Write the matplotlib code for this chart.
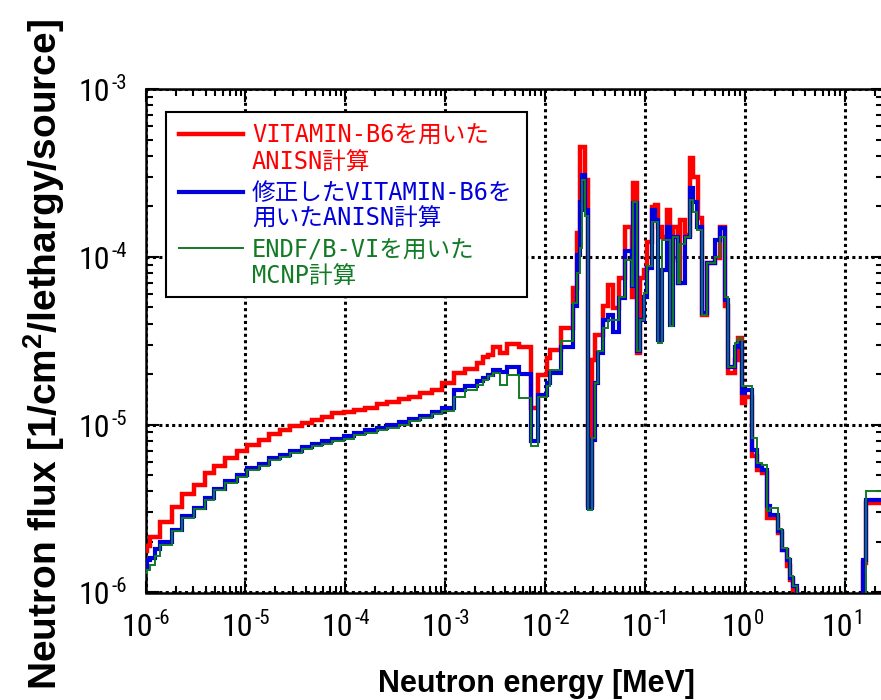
import numpy as np
import matplotlib
matplotlib.use('Agg')
import matplotlib.pyplot as plt
from matplotlib import font_manager as fm
from matplotlib.ticker import LogLocator, NullFormatter
from matplotlib.lines import Line2D
from matplotlib.patches import Rectangle
from matplotlib.transforms import offset_copy

names = {f.name for f in fm.fontManager.ttflist}
NARROW = 'Liberation Sans'
for cand in ['Liberation Sans Narrow', 'DejaVu Sans Condensed', 'Roboto Condensed', 'Open Sans Condensed']:
    if cand in names:
        NARROW = cand
        break
plt.rcParams['font.family'] = ['Liberation Sans']
plt.rcParams['mathtext.fontset'] = 'custom'
plt.rcParams['mathtext.rm'] = 'Liberation Sans'
plt.rcParams['mathtext.bf'] = 'Liberation Sans:bold'

# ---- data (group edges in MeV, flux per lethargy) ----
energy_edges = [
    8.91e-7, 1.047e-6, 1.122e-6, 1.259e-6, 1.413e-6, 1.849e-6, 2.328e-6, 3.04e-6, 3.98e-6, 4.82e-6,
    6.31e-6, 8.26e-6, 1.040e-5, 1.358e-5, 1.710e-5, 2.239e-5, 2.818e-5, 3.69e-5, 4.65e-5, 5.85e-5,
    7.36e-5, 9.62e-5, 1.211e-4, 1.585e-4, 2.075e-4, 2.612e-4, 3.41e-4, 4.30e-4, 5.62e-4, 7.36e-4,
    9.27e-4, 1.211e-3,
    1.585e-3, 2.075e-3, 2.415e-3, 2.71e-3, 3.04e-3, 3.55e-3, 4.14e-3, 5.50e-3, 7.24e-3, 8.57e-3,
    1.040e-2, 1.122e-2, 1.445e-2, 1.905e-2, 2.089e-2, 2.239e-2, 2.344e-2, 2.512e-2, 2.71e-2, 2.93e-2,
    3.162e-2, 3.41e-2, 3.83e-2, 4.30e-2, 4.82e-2, 5.50e-2, 6.31e-2, 7.36e-2, 7.64e-2, 8.26e-2,
    8.91e-2, 9.77e-2, 0.1040, 0.1167, 0.1259, 0.1358, 0.1469, 0.1648, 0.1778, 0.1919,
    0.2153, 0.2239, 0.2512, 0.2818, 0.304, 0.329, 0.341, 0.369, 0.414, 0.501,
    0.562, 0.631, 0.681, 0.794, 0.857, 0.927, 1.000, 1.167, 1.309, 1.479,
    1.660, 1.778, 2.153, 2.328, 2.612, 2.818, 3.041, 3.311, 15.14, 16.22, 28.2]

flux_vitamin_b6 = [
    1.76e-6, 1.90e-6, 2.13e-6, 2.13e-6, 2.62e-6, 3.22e-6, 3.85e-6, 4.38e-6, 5.16e-6, 5.65e-6,
    6.37e-6, 6.94e-6, 7.53e-6, 8.14e-6, 8.81e-6, 9.34e-6, 9.77e-6, 1.018e-5, 1.07e-5, 1.11e-5,
    1.17e-5, 1.19e-5, 1.23e-5, 1.26e-5, 1.32e-5, 1.36e-5, 1.43e-5, 1.47e-5, 1.54e-5, 1.62e-5,
    1.77e-5,
    2.03e-5, 2.15e-5, 2.33e-5, 2.52e-5, 2.60e-5, 2.92e-5, 2.67e-5, 3.03e-5, 2.92e-5, 1.26e-5,
    1.99e-5, 2.49e-5, 2.79e-5, 3.76e-5, 6.51e-5, 1.38e-4, 4.54e-4, 4.54e-4, 2.87e-4, 3.3e-6,
    2.44e-5, 3.43e-5, 3.43e-5, 5.06e-5, 6.81e-5, 4.95e-5, 7.47e-5, 1.51e-4, 5.80e-5, 2.75e-4,
    2.67e-5, 7.47e-5, 8.37e-5, 1.23e-4, 1.99e-4, 2.04e-4, 1.51e-4, 1.32e-4, 1.90e-4, 9.60e-5,
    1.51e-4, 6.97e-5, 1.66e-4, 1.35e-4, 3.87e-4, 3.0e-4, 3.01e-4, 1.7e-4, 4.52e-5, 9.17e-5,
    9.83e-5, 1.51e-4, 5.06e-5, 2.03e-5, 2.44e-5, 3.28e-5, 1.35e-5, 1.47e-5, 6.48e-6, 5.40e-6,
    5.16e-6, 2.79e-6, 2.79e-6, 2.26e-6, 1.80e-6, 1.43e-6, 1.19e-6, 1.04e-6, 3e-7, 1.5e-6, 3.43e-6]

flux_modified_b6 = [
    1.40e-6, 1.57e-6, 1.61e-6, 1.82e-6, 1.99e-6, 2.37e-6, 2.85e-6, 3.19e-6, 3.66e-6, 4.14e-6,
    4.59e-6, 5.02e-6, 5.52e-6, 5.86e-6, 6.34e-6, 6.63e-6, 7.00e-6, 7.37e-6, 7.71e-6, 7.96e-6,
    8.26e-6, 8.51e-6, 8.93e-6, 9.25e-6, 9.56e-6, 9.90e-6, 1.032e-5, 1.081e-5, 1.132e-5, 1.19e-5,
    1.26e-5,
    1.62e-5, 1.69e-5, 1.81e-5, 1.90e-5, 1.99e-5, 2.12e-5, 2.05e-5, 2.21e-5, 2.00e-5, 7.96e-6,
    1.51e-5, 1.77e-5, 2.03e-5, 2.92e-5, 5.06e-5, 1.03e-4, 2.13e-4, 3.08e-4, 1.90e-4, 3.19e-6,
    8.14e-6, 1.77e-5, 2.67e-5, 4.22e-5, 4.52e-5, 3.59e-5, 5.68e-5, 1.08e-4, 6.66e-5, 2.09e-4,
    2.73e-5, 4.22e-5, 5.80e-5, 8.57e-5, 1.90e-4, 1.66e-4, 3.21e-5, 8.37e-5, 1.51e-4, 3.94e-5,
    1.32e-4, 6.97e-5, 6.97e-5, 1.32e-4, 2.56e-4, 2.13e-4, 1.51e-4, 1.51e-4, 4.62e-5, 9.17e-5,
    1.26e-4, 1.48e-4, 5.55e-5, 2.22e-5, 2.92e-5, 3.06e-5, 1.55e-5, 1.62e-5, 7.10e-6, 5.65e-6,
    5.40e-6, 3.27e-6, 2.91e-6, 2.32e-6, 1.80e-6, 1.57e-6, 1.22e-6, 1.09e-6, 3e-7, 1.57e-6, 3.54e-6]

flux_mcnp = [
    1.31e-6, 1.37e-6, 1.45e-6, 1.66e-6, 1.93e-6, 2.32e-6, 2.79e-6, 3.15e-6, 3.58e-6, 4.06e-6,
    4.50e-6, 4.87e-6, 5.35e-6, 5.68e-6, 6.15e-6, 6.43e-6, 6.79e-6, 7.15e-6, 7.48e-6, 7.72e-6,
    8.01e-6, 8.25e-6, 8.66e-6, 8.97e-6, 9.27e-6, 9.60e-6, 1.00e-5, 1.05e-5, 1.10e-5, 1.15e-5,
    1.20e-5,
    1.47e-5, 1.62e-5, 1.73e-5, 1.85e-5, 1.94e-5, 2.03e-5, 1.73e-5, 1.99e-5, 1.44e-5, 7.43e-6,
    1.47e-5, 1.69e-5, 2.12e-5, 3.13e-5, 5.30e-5, 8.0e-5, 1.13e-4, 2.87e-4, 1.74e-4, 3.1e-6,
    8.34e-6, 1.77e-5, 2.73e-5, 3.76e-5, 4.22e-5, 4.22e-5, 5.80e-5, 9.60e-5, 6.66e-5, 2.13e-4,
    2.73e-5, 4.18e-5, 6.1e-5, 8.77e-5, 1.62e-4, 1.62e-4, 3.06e-5, 1.26e-4, 1.26e-4, 3.85e-5,
    1.32e-4, 6.97e-5, 1.2e-4, 1.32e-4, 2.18e-4, 1.86e-4, 1.45e-4, 1.45e-4, 4.52e-5, 9.17e-5,
    1.0e-4, 1.32e-4, 5.80e-5, 2.22e-5, 3.06e-5, 3.28e-5, 1.69e-5, 1.69e-5, 8.34e-6, 5.92e-6,
    5.78e-6, 3.05e-6, 3.19e-6, 2.4e-6, 1.85e-6, 1.6e-6, 1.25e-6, 1.1e-6, 3e-7, 3e-7, 4.01e-6]

x_tick_exponents = [-6, -5, -4, -3, -2, -1, 0, 1]
y_tick_exponents = [-6, -5, -4, -3]

legend_labels = [
    ['VITAMIN-B6を用いた', 'ANISN計算'],
    ['修正したVITAMIN-B6を', '用いたANISN計算'],
    ['ENDF/B-VIを用いた', 'MCNP計算'],
]
x_label = 'Neutron energy [MeV]'
y_label = r'Neutron flux [1/cm$^{\mathbf{2}}$/lethargy/source]'

RED, BLUE, GREEN = '#FF0000', '#0000DD', '#137A26'

W, H = 881, 700
PT = 0.72  # points per pixel at dpi 100
fig = plt.figure(figsize=(W / 100, H / 100), dpi=100)
ax = fig.add_axes([145.5 / W, 107.5 / H, 737.5 / W, 503.5 / H])
ax.set_xscale('log')
ax.set_yscale('log')

ax.stairs(flux_vitamin_b6, energy_edges, baseline=None, color=RED, lw=3.2, zorder=3)
ax.stairs(flux_modified_b6, energy_edges, baseline=None, color=BLUE, lw=3.0, zorder=4)
ax.stairs(flux_mcnp, energy_edges, baseline=None, color=GREEN, lw=1.4, zorder=5)

ax.set_xlim(1e-6, 10 ** 1.3825)
ax.set_ylim(1e-6, 1e-3)

ax.grid(True, which='major', color='black', linestyle=(0, (1, 1.1)), linewidth=2.2)
ax.set_axisbelow(True)

for axis in (ax.xaxis, ax.yaxis):
    axis.set_major_locator(LogLocator(base=10, numticks=20))
    axis.set_minor_locator(LogLocator(base=10, subs=np.arange(2, 10), numticks=20))
    axis.set_minor_formatter(NullFormatter())
    axis.set_major_formatter(NullFormatter())

ax.tick_params(which='both', direction='in', top=True, right=True, width=1.5, color='black')
ax.tick_params(which='major', length=9)
ax.tick_params(which='minor', length=5)
for s in ax.spines.values():
    s.set_linewidth(1.8)

# tick labels "10" + raised exponent (hyphen as in the reference)
MAIN_FS, SUP_FS = 23, 15
xt = ax.get_xaxis_transform()
for e in x_tick_exponents:
    x = 10.0 ** e
    ax.text(x, 0, '10', transform=offset_copy(xt, fig, x=8 * PT, y=-44 * PT, units='points'),
            ha='right', va='baseline', fontsize=MAIN_FS, family=NARROW, clip_on=False)
    ax.text(x, 0, '%d' % e if e >= 0 else '-%d' % (-e),
            transform=offset_copy(xt, fig, x=9 * PT, y=-32 * PT, units='points'),
            ha='left', va='baseline', fontsize=SUP_FS, family=NARROW, clip_on=False)
yt = ax.get_yaxis_transform()
for e in y_tick_exponents:
    y = 10.0 ** e
    ax.text(0, y, '10', transform=offset_copy(yt, fig, x=-35 * PT, y=-12 * PT, units='points'),
            ha='right', va='baseline', fontsize=MAIN_FS, family=NARROW, clip_on=False)
    ax.text(0, y, '-%d' % (-e), transform=offset_copy(yt, fig, x=-34 * PT, y=0 * PT, units='points'),
            ha='left', va='baseline', fontsize=SUP_FS, family=NARROW, clip_on=False)

def fx(x):
    return x / W

def fy(y):
    return 1 - y / H

fig.text(fx(536), fy(692), x_label, ha='center', va='baseline', fontsize=22,
         fontweight='bold', family='Liberation Sans')
fig.text(fx(57), fy(355), y_label, ha='center', va='baseline', rotation=90,
         rotation_mode='anchor', fontsize=28, fontweight='bold', family='Liberation Sans')

# legend box
fig.add_artist(Rectangle((fx(166), fy(297)), (527 - 166) / W, (297 - 112) / H,
                         transform=fig.transFigure, facecolor='white', edgecolor='black',
                         lw=1.5, zorder=10))
leg_colors = [RED, BLUE, GREEN]
leg_lw = [3.2, 3.0, 1.4]
line_y = [134, 192, 248]
base1 = [143, 200, 258]
base2 = [170, 226, 284]
for i in range(3):
    fig.add_artist(Line2D([fx(179), fx(243)], [fy(line_y[i])] * 2, transform=fig.transFigure,
                          color=leg_colors[i], lw=leg_lw[i], zorder=11))
    fig.text(fx(252), fy(base1[i]), legend_labels[i][0], color=leg_colors[i], fontsize=17,
             family=['DejaVu Sans Mono', 'Noto Sans CJK JP'], va='baseline', zorder=11)
    fig.text(fx(252), fy(base2[i]), legend_labels[i][1], color=leg_colors[i], fontsize=17,
             family=['DejaVu Sans Mono', 'Noto Sans CJK JP'], va='baseline', zorder=11)

fig.savefig('out.png', dpi=100)
